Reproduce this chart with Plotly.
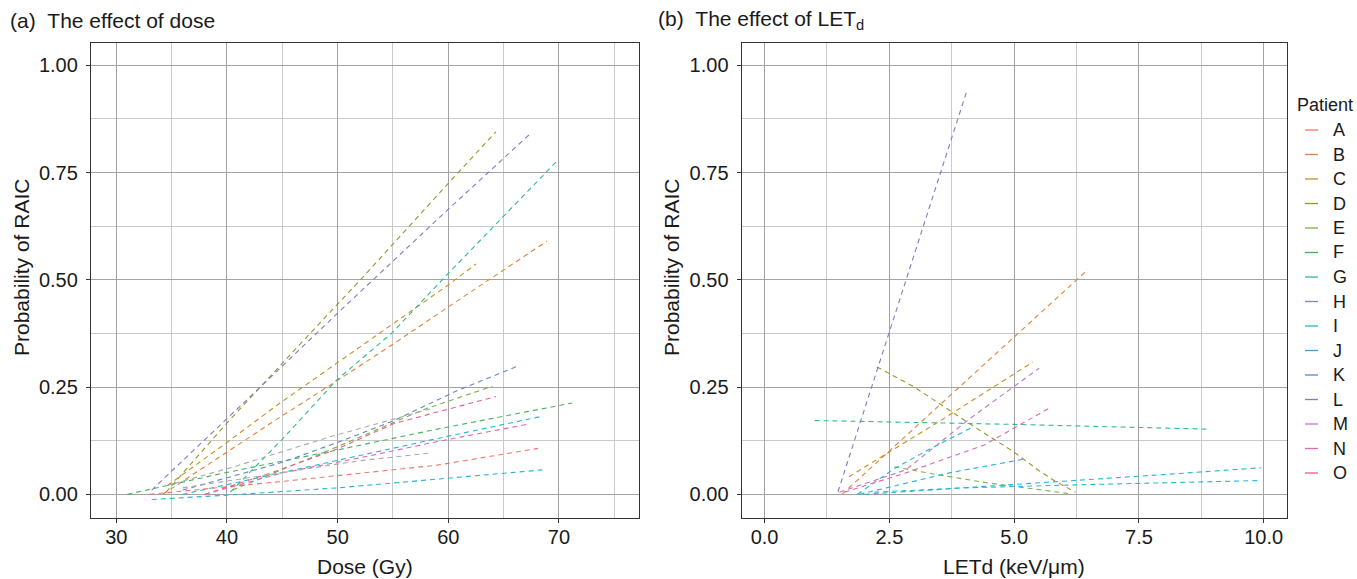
import plotly.graph_objects as go

W, H = 1357, 579

patients = ["A", "B", "C", "D", "E", "F", "G", "H", "I", "J", "K", "L", "M", "N", "O"]
patient_colors = ["#EC7A70", "#E28236", "#C4901E", "#97972A", "#78B444", "#45B35E",
                  "#2FBB8D", "#1ABBAF", "#26B6D4", "#3B9CE0", "#6485C8", "#8C74C8",
                  "#BB78C6", "#DA6BB0", "#EC5C8A"]
grey_color = "#AAAAAA"

# ---- panel (a): probability vs dose (Gy) ----
dose_x = {
    "A": [33.0, 45.0, 59.0, 68.1],
    "B": [34.2, 44.8, 49.9, 55.0, 60.0, 68.9],
    "C": [34.6, 39.95, 44.8, 49.9, 55.1, 60.0, 62.5],
    "D": [34.5, 39.6, 46.1, 52.2, 60.0, 64.3],
    "E": [40.5, 44.8, 49.9, 57.7, 64.0],
    "F": [31.0, 39.6, 49.9, 59.0, 71.2],
    "G": [40.3, 44.95, 49.9, 54.9, 60.0, 69.9],
    "I": [33.2, 40.0, 50.0, 68.5],
    "J": [36.0, 44.0, 50.0, 59.0, 68.3],
    "K": [36.0, 40.3, 44.8, 49.9, 55.1, 60.9, 66.3],
    "L": [33.2, 39.9, 44.8, 49.9, 59.6, 67.3],
    "N": [38.0, 45.0, 52.0, 59.0, 67.3],
    "O": [38.0, 44.0, 49.9, 55.1, 64.3],
    "NA1": [34.5, 40.6, 49.3, 58.5],
    "NA2": [36.0, 45.0, 51.9, 58.3],
}
dose_p = {
    "A": [0.0, 0.03, 0.068, 0.107],
    "B": [0.0, 0.18, 0.264, 0.35, 0.437, 0.59],
    "C": [0.02, 0.12, 0.213, 0.305, 0.40, 0.488, 0.537],
    "D": [0.005, 0.155, 0.336, 0.504, 0.725, 0.845],
    "E": [0.01, 0.055, 0.11, 0.197, 0.252],
    "F": [0.0, 0.049, 0.103, 0.152, 0.213],
    "G": [0.005, 0.127, 0.266, 0.376, 0.515, 0.779],
    "I": [-0.012, -0.002, 0.015, 0.057],
    "J": [0.0, 0.045, 0.08, 0.13, 0.181],
    "K": [0.01, 0.041, 0.073, 0.12, 0.172, 0.243, 0.299],
    "L": [0.01, 0.173, 0.294, 0.42, 0.655, 0.838],
    "N": [0.0, 0.05, 0.085, 0.123, 0.164],
    "O": [0.0, 0.05, 0.105, 0.165, 0.228],
    "NA1": [0.02, 0.064, 0.134, 0.2],
    "NA2": [0.015, 0.05, 0.078, 0.096],
}

# ---- panel (b): probability vs LETd (keV/um) ----
let_x = {
    "B": [1.55, 4.0, 6.48],
    "C": [1.69, 3.5, 5.37],
    "D": [2.25, 3.0, 3.69, 4.3, 4.98, 5.5, 5.83, 6.23],
    "E": [2.6, 3.5, 4.5, 5.3, 6.08],
    "G": [1.0, 5.0, 8.85],
    "H": [1.9, 2.25, 3.7, 5.19],
    "I": [1.86, 2.6, 3.3, 4.19],
    "I2": [2.0, 4.0, 6.23, 8.0, 9.95],
    "J": [2.2, 4.0, 6.23, 8.0, 9.88],
    "L": [1.47, 4.04],
    "M": [1.5, 2.83, 4.12, 4.98, 5.5],
    "N": [1.6, 2.83, 4.4, 5.69],
}
let_p = {
    "B": [0.0, 0.26, 0.524],
    "C": [0.041, 0.17, 0.308],
    "D": [0.297, 0.25, 0.197, 0.15, 0.1, 0.055, 0.03, 0.005],
    "E": [0.064, 0.045, 0.026, 0.013, 0.002],
    "G": [0.172, 0.163, 0.152],
    "H": [0.0, 0.01, 0.05, 0.082],
    "I": [0.0, 0.06, 0.105, 0.158],
    "I2": [0.0, 0.015, 0.032, 0.046, 0.062],
    "J": [0.005, 0.015, 0.022, 0.027, 0.032],
    "L": [0.006, 0.936],
    "M": [0.005, 0.057, 0.177, 0.25, 0.294],
    "N": [0.005, 0.05, 0.115, 0.2],
}
series_color_key = {"I2": "I", "J": "I", "H": "I"}

dose_ticks = [30, 40, 50, 60, 70]
let_ticks = [0, 2.5, 5, 7.5, 10]
let_ticklabels = ["0.0", "2.5", "5.0", "7.5", "10.0"]
p_ticks = [0, 0.25, 0.5, 0.75, 1.0]
p_ticklabels = ["0.00", "0.25", "0.50", "0.75", "1.00"]

FONT = "Liberation Sans, Arial, Helvetica, sans-serif"
DASH = "5px,4px"


def color_of(key):
    k = series_color_key.get(key, key)
    if k in patients:
        return patient_colors[patients.index(k)]
    return grey_color


fig = go.Figure()
for key in dose_x:
    fig.add_trace(go.Scatter(x=dose_x[key], y=dose_p[key], mode="lines",
                             line=dict(color=color_of(key), width=1.1, dash=DASH),
                             showlegend=False, xaxis="x", yaxis="y", hoverinfo="skip"))
for key in let_x:
    fig.add_trace(go.Scatter(x=let_x[key], y=let_p[key], mode="lines",
                             line=dict(color=color_of(key), width=1.1, dash=DASH),
                             showlegend=False, xaxis="x2", yaxis="y2", hoverinfo="skip"))

top_px, bot_px = 43, 518
ydom = [1 - bot_px / H, 1 - top_px / H]

axis_common = dict(showline=True, mirror=True, linecolor="#333333", linewidth=1.3,
                   ticks="outside", ticklen=4, tickwidth=1, tickcolor="#333333",
                   showgrid=True, gridcolor="#A3A3A3", gridwidth=1, zeroline=False,
                   tickfont=dict(family=FONT, size=20, color="#1a1a1a"))
minor_style = dict(showgrid=True, gridcolor="#CACACA", gridwidth=1.4, ticks="")

fig.update_layout(
    width=W, height=H, margin=dict(l=0, r=0, t=0, b=0),
    paper_bgcolor="white", plot_bgcolor="white",
    xaxis=dict(domain=[91 / W, 639 / W], range=[27.714, 77.229],
               tickvals=dose_ticks, anchor="y", ticklabelstandoff=-3,
               minor=dict(dtick=5, tick0=25, **minor_style), **axis_common),
    yaxis=dict(domain=ydom, range=[-0.0552, 1.052], tickvals=p_ticks, ticktext=p_ticklabels,
               anchor="x", ticklabelstandoff=4,
               minor=dict(dtick=0.125, tick0=0.125, **minor_style), **axis_common),
    xaxis2=dict(domain=[741.7 / W, 1286.7 / W], range=[-0.4588, 10.461],
                tickvals=let_ticks, ticktext=let_ticklabels, anchor="y2", ticklabelstandoff=-3,
                minor=dict(dtick=1.25, tick0=0, **minor_style), **axis_common),
    yaxis2=dict(domain=ydom, range=[-0.0552, 1.052], tickvals=p_ticks, ticktext=p_ticklabels,
                anchor="x2", ticklabelstandoff=4,
                minor=dict(dtick=0.125, tick0=0.125, **minor_style), **axis_common),
)

ann = []
ttl = dict(family=FONT, size=21, color="#1a1a1a")
ann.append(dict(text="(a)\u00a0\u00a0The effect of dose", x=8 / W, y=1 - 20 / H, xref="paper", yref="paper",
                xanchor="left", yanchor="middle", showarrow=False, font=ttl))
ann.append(dict(text="(b)\u00a0\u00a0The effect of LET<sub>d</sub>", x=656 / W, y=1 - 20 / H, xref="paper",
                yref="paper", xanchor="left", yanchor="middle", showarrow=False, font=ttl))
axt = dict(family=FONT, size=21, color="#1a1a1a")
ann.append(dict(text="Dose (Gy)", x=365 / W, y=1 - 566 / H, xref="paper", yref="paper",
                xanchor="center", yanchor="middle", showarrow=False, font=axt))
ann.append(dict(text="LETd (keV/μm)", x=1014 / W, y=1 - 566 / H, xref="paper", yref="paper",
                xanchor="center", yanchor="middle", showarrow=False, font=axt))
for xc in (22, 672):
    ann.append(dict(text="Probability of RAIC", x=xc / W, y=1 - 268 / H, xref="paper", yref="paper",
                    xanchor="center", yanchor="middle", textangle=-90, showarrow=False, font=axt))

# legend (drawn manually to match short solid keys)
txt = dict(family=FONT, size=18, color="#1a1a1a")
ann.append(dict(text="Patient", x=1295 / W, y=1 - 105 / H, xref="paper", yref="paper",
                xanchor="left", yanchor="middle", showarrow=False, font=txt))
shapes = []
for i, p in enumerate(patients):
    yc = 1 - (130 + 24.5 * i) / H
    shapes.append(dict(type="line", xref="paper", yref="paper", x0=1305 / W, x1=1318 / W, y0=yc, y1=yc,
                       line=dict(color=patient_colors[i], width=1.3)))
    ann.append(dict(text=p, x=1331 / W, y=yc, xref="paper", yref="paper", xanchor="left",
                    yanchor="middle", showarrow=False, font=txt))

fig.update_layout(annotations=ann, shapes=shapes)
fig.write_html("out.html", config={"displayModeBar": False},
               post_script="document.body.style.margin='0';document.body.style.overflow='hidden';")
